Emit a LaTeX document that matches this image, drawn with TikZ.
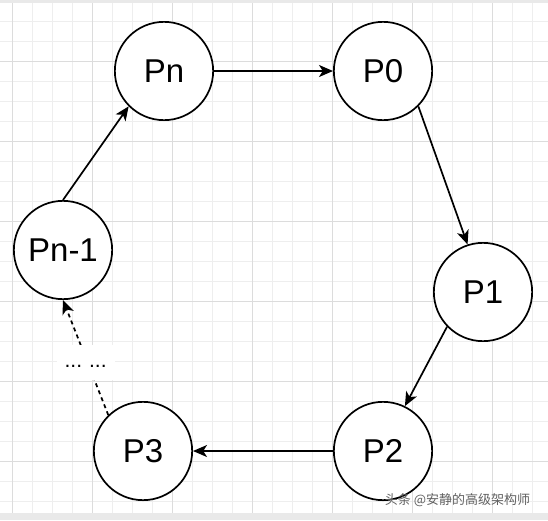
\documentclass[tikz,border=0pt]{standalone}
\usepackage{fontspec}
\setmainfont{Liberation Sans}
\newfontfamily\cjkfont{Noto Sans CJK SC}
\usetikzlibrary{arrows.meta}
\definecolor{minorgrid}{HTML}{EEEEEE}
\definecolor{majorgrid}{HTML}{DCDCDC}
\definecolor{bandgray}{HTML}{E9E9E9}
\begin{document}
\begin{tikzpicture}[x=1pt,y=-1pt,
  proc/.style={circle, draw=black, line width=1.7pt, minimum size=98.3pt,
    inner sep=0pt, fill=white, font=\fontsize{33}{36}\selectfont},
  conn/.style={line width=1.7pt, -{Stealth[length=14pt,width=12pt,inset=3.8pt]}},
  dashconn/.style={conn, dash pattern=on 4pt off 3.5pt},
  gapnote/.style={fill=white, font=\fontsize{21}{24}\selectfont,
    text height=14pt, text depth=5pt, inner xsep=8pt, inner ysep=8pt},
  minorline/.style={draw=minorgrid, line width=0.9pt},
  majorline/.style={draw=majorgrid, line width=0.9pt}
]
\useasboundingbox (0,0) rectangle (548,520);
\fill[white] (0,0) rectangle (548,520);
% grid
\foreach \gx in {12,32,...,532} { \draw[minorline] (\gx,0) -- (\gx,520); }
\foreach \gy in {1,21,...,521} { \draw[minorline] (0,\gy) -- (548,\gy); }
\foreach \gx in {12,92,...,532} { \draw[majorline] (\gx,0) -- (\gx,520); }
\foreach \gy in {61,141,...,521} { \draw[majorline] (0,\gy) -- (548,\gy); }
% bands
\fill[bandgray] (0,0) rectangle (548,2.5);
\fill[bandgray] (0,513) rectangle (548,520);
% nodes
\node[proc] (Pn)  at (164,71)  {Pn};
\node[proc] (P0)  at (383,71)  {P0};
\node[proc] (P1)  at (483,292) {P1};
\node[proc] (P2)  at (383,451) {P2};
\node[proc] (P3)  at (143,451) {P3};
\node[proc] (Pn1) at (63,250)  {Pn-1};
% connectors
\draw[conn] (Pn.east) -- (P0.west);
\draw[conn] (P0.-45) -- (P1.108);
\draw[conn] (P1.-136) -- (P2.64);
\draw[conn] (P2.west) -- (P3.east);
\draw[dashconn] (P3.134) -- node[gapnote, yshift=-5pt] (gap) {...\,\,...} (Pn1.south);
\draw[conn] (Pn1.north) -- (Pn.225);
% watermark
\node[font=\cjkfont\fontsize{13}{14}\selectfont, text=black!62, inner sep=0pt] (wm) at (457.5,500) {头条 @安静的高级架构师};
\end{tikzpicture}
\end{document}
